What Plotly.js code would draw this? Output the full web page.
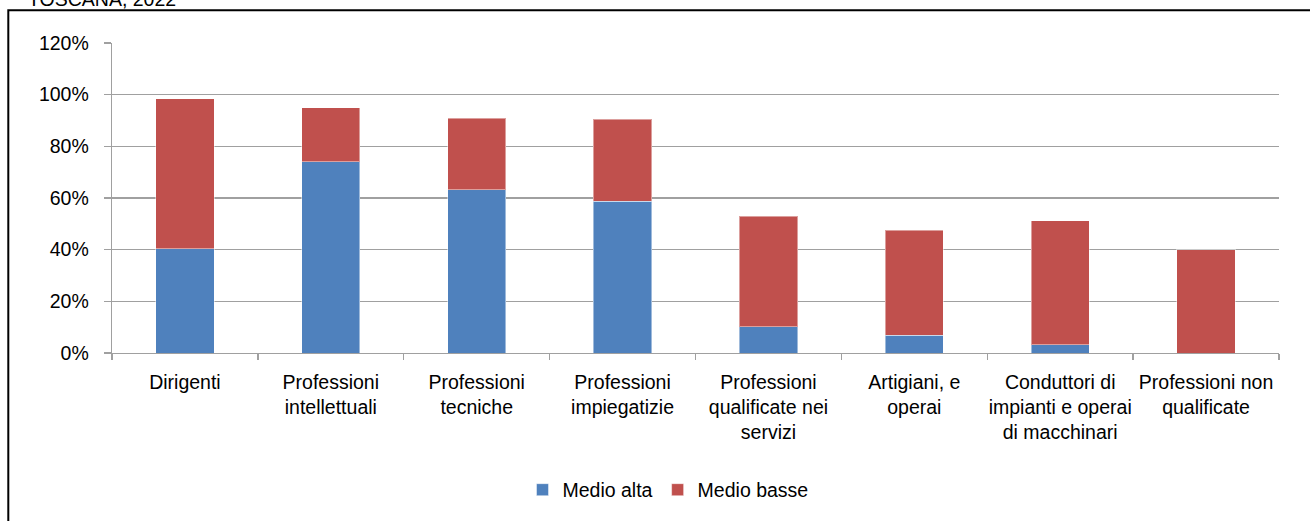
<!DOCTYPE html>
<html>
<head>
<meta charset="utf-8">
<script src="https://cdn.plot.ly/plotly-3.0.1.min.js"></script>
<style>
  html, body { margin: 0; padding: 0; background: #ffffff; }
  #chart { width: 1310px; height: 521px; }
</style>
</head>
<body>
<div id="chart"></div>
<script>
// Professional groups (Toscana, 2022)
const categories = [
  "Dirigenti",
  "Professioni<br>intellettuali",
  "Professioni<br>tecniche",
  "Professioni<br>impiegatizie",
  "Professioni<br>qualificate nei<br>servizi",
  "Artigiani, e<br>operai",
  "Conduttori di<br>impianti e operai<br>di macchinari",
  "Professioni non<br>qualificate"
];

// Shares (%) by level
const medioAlta  = [40.3, 74.0, 63.2, 58.7, 10.2, 6.8, 3.1, 0.0];
const medioBasse = [58.2, 20.9, 27.7, 31.8, 42.7, 40.7, 48.0, 40.0];

const seriesNames = ["Medio alta", "Medio basse"];
const yTicks = [0, 20, 40, 60, 80, 100, 120];
const chartTitle = "TOSCANA, 2022";

const FONT = "'Liberation Sans', Arial, Helvetica, sans-serif";
const FS = 19.5;
const GRID = "#a0a0a0";

const M = { l: 112, r: 31, t: 43, b: 168 };
const W = 1310, H = 521;
const pw = W - M.l - M.r, ph = H - M.t - M.b;
// pixel -> paper helpers for the outer frame and header text
const px = v => (v - M.l) / pw;
const py = v => (H - M.b - v) / ph;

const traces = [
  {
    type: "bar",
    name: seriesNames[0],
    x: categories,
    y: medioAlta,
    marker: { color: "#4F81BD", line: { color: "rgba(255,255,255,0.45)", width: 1 } },
    hoverinfo: "skip"
  },
  {
    type: "bar",
    name: seriesNames[1],
    x: categories,
    y: medioBasse,
    marker: { color: "#C0504D", line: { color: "rgba(255,255,255,0.45)", width: 1 } },
    hoverinfo: "skip"
  }
];

const layout = {
  width: W,
  height: H,
  margin: M,
  paper_bgcolor: "#ffffff",
  plot_bgcolor: "#ffffff",
  barmode: "stack",
  bargap: 0.6,
  font: { family: FONT, size: FS, color: "#000000" },
  showlegend: true,
  legend: {
    orientation: "h",
    x: px(668),
    xanchor: "center",
    y: py(490),
    yanchor: "middle",
    font: { family: FONT, size: FS, color: "#000000" },
    traceorder: "normal",
    itemwidth: 30,
    bgcolor: "rgba(0,0,0,0)"
  },
  xaxis: {
    type: "category",
    showgrid: false,
    showline: true,
    linecolor: GRID,
    linewidth: 1.3,
    ticks: "outside",
    tickson: "boundaries",
    ticklen: 6,
    tickcolor: GRID,
    tickwidth: 1.3,
    tickangle: 0,
    ticklabelstandoff: 11,
    tickfont: { family: FONT, size: FS, color: "#000000" },
    automargin: false,
    fixedrange: true
  },
  yaxis: {
    range: [0, 120],
    tickvals: yTicks,
    ticktext: yTicks.map(v => v + "%"),
    showgrid: true,
    gridcolor: GRID,
    gridwidth: 1.3,
    showline: true,
    linecolor: GRID,
    linewidth: 1.3,
    zeroline: false,
    ticks: "outside",
    ticklen: 7,
    tickcolor: GRID,
    tickwidth: 1.3,
    ticklabelstandoff: 11,
    tickfont: { family: FONT, size: FS, color: "#000000" },
    automargin: false,
    fixedrange: true
  },
  shapes: [
    {
      type: "rect",
      xref: "paper", yref: "paper",
      x0: px(8.3), x1: px(1330),
      y0: py(540), y1: py(10.2),
      line: { color: "#000000", width: 2 },
      fillcolor: "rgba(0,0,0,0)",
      layer: "above"
    }
  ],
  annotations: [
    {
      text: chartTitle,
      xref: "paper", yref: "paper",
      x: px(26), xanchor: "left",
      y: py(-1.5), yanchor: "middle",
      showarrow: false,
      font: { family: FONT, size: FS, color: "#000000" }
    }
  ]
};

Plotly.newPlot("chart", traces, layout, { displayModeBar: false, staticPlot: true });
</script>
</body>
</html>
